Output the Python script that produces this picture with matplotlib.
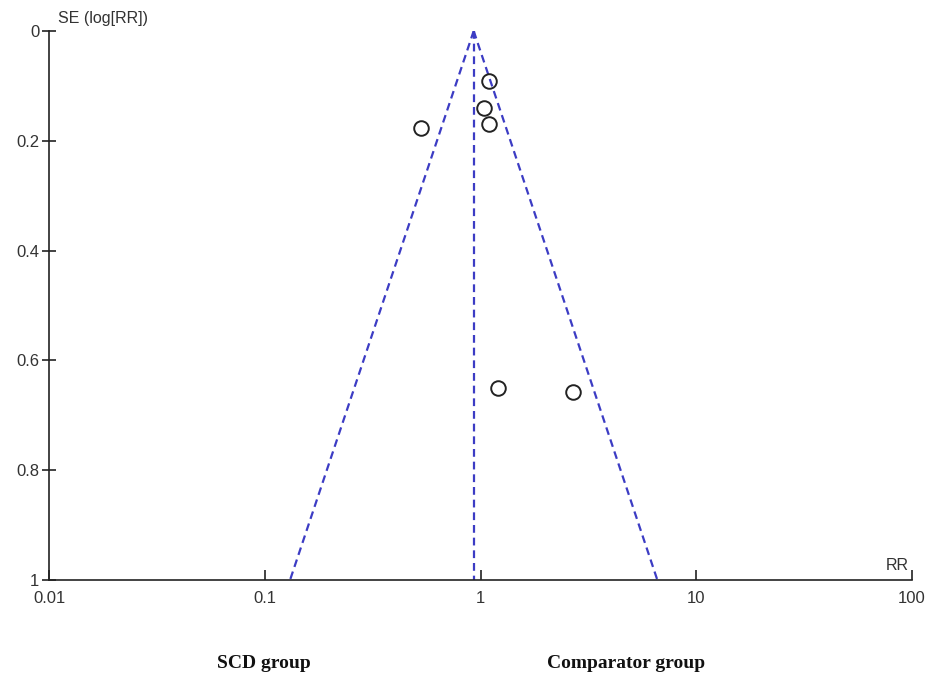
import numpy as np
import matplotlib.pyplot as plt

# Study estimates
rr = [1.09, 1.04, 1.09, 0.53, 1.20, 2.67]
se = [0.091, 0.14, 0.17, 0.177, 0.65, 0.658]
pooled_rr = 0.93
se_max = 1.0

fig = plt.figure(figsize=(9.39, 6.79), dpi=100)
ax = fig.add_axes([49 / 939, 1 - 580 / 679, (912 - 49) / 939, (580 - 31) / 679])

ax.set_xscale("log")
ax.set_xlim(0.01, 100)
ax.set_ylim(se_max, 0)

# funnel (95% pseudo confidence limits)
se_line = np.array([0.0, se_max])
col = "#3c3cc4"
kw = dict(color=col, lw=1.6, dashes=(3.5, 2.2))
ax.plot(pooled_rr * np.exp(-1.96 * se_line), se_line, "--", **kw)
ax.plot(pooled_rr * np.exp(1.96 * se_line), se_line, "--", **kw)
ax.plot([pooled_rr, pooled_rr], [0, se_max], "--", **kw)

ax.plot(rr, se, "o", markerfacecolor="none", markeredgecolor="#222222",
        markersize=10.5, markeredgewidth=1.4, linestyle="none")

for s in ["top", "right"]:
    ax.spines[s].set_visible(False)
for s in ["left", "bottom"]:
    ax.spines[s].set_color("#222222")
    ax.spines[s].set_linewidth(1.2)

ax.set_xticks([0.01, 0.1, 1, 10, 100])
ax.set_xticklabels(["0.01", "0.1", "1", "10", "100"])
ax.minorticks_off()
ax.set_yticks([0, 0.2, 0.4, 0.6, 0.8, 1])
ax.set_yticklabels(["0", "0.2", "0.4", "0.6", "0.8", "1"])
ax.tick_params(axis="x", direction="in", length=7, width=1.2, pad=8,
               labelsize=12, colors="#222222", labelcolor="#333333")
ax.tick_params(axis="y", direction="inout", length=10, width=1.2, pad=2,
               labelsize=12, colors="#222222", labelcolor="#333333")
for lab in ax.get_xticklabels() + ax.get_yticklabels():
    lab.set_family("Liberation Sans")

fig.text(58 / 939, 1 - 18 / 679, "SE (log[RR])", fontsize=11.5, color="#333333",
         family="Liberation Sans", va="center", ha="left")
fig.text(897 / 939, 1 - 566 / 679, "RR", fontsize=11.5, color="#333333",
         family="Liberation Sans", va="center", ha="center")

fig.text(264 / 939, 1 - 663 / 679, "SCD group", fontsize=14, fontweight="bold",
         family="Liberation Serif", ha="center", va="center", color="#111111")
fig.text(626 / 939, 1 - 663 / 679, "Comparator group", fontsize=14, fontweight="bold",
         family="Liberation Serif", ha="center", va="center", color="#111111")

fig.savefig("out.png", dpi=100)
